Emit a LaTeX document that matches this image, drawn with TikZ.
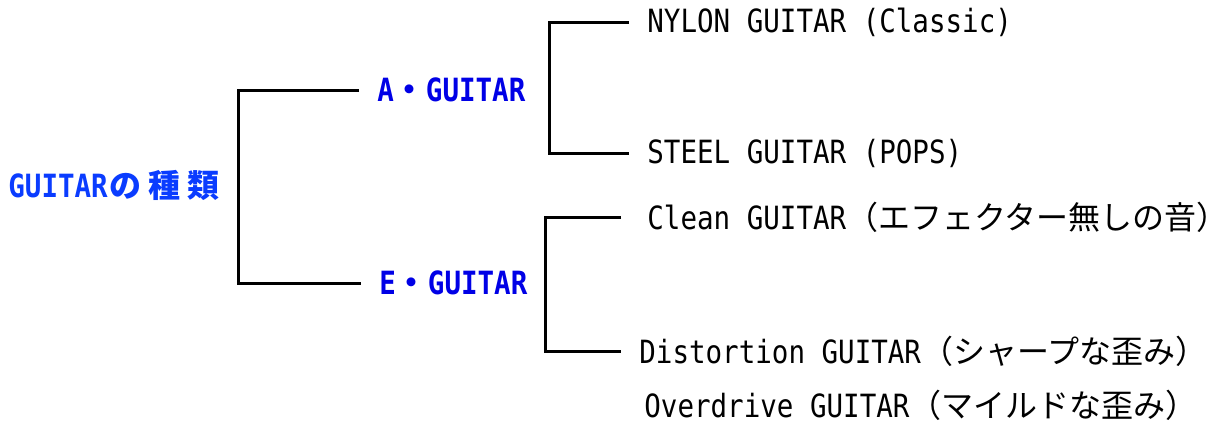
\documentclass[tikz,border=0pt]{standalone}
\usepackage{fontspec}
\setmainfont{Noto Sans CJK JP}
\newfontfamily\latin[FakeStretch=0.86]{DejaVu Sans Mono}
\usepackage{tikz}
\usetikzlibrary{positioning}

\definecolor{rootblue}{RGB}{10,60,255}
\definecolor{typeblue}{RGB}{0,0,230}

\tikzset{
	branch/.style={line width=1.5pt, shorten <=9pt, shorten >=9pt},
	item/.style={anchor=west, inner sep=0pt, font=\fontsize{16}{18}\selectfont},
	kind/.style={item, font=\fontsize{16}{18}\selectfont\bfseries},
}

\begin{document}
\begin{tikzpicture}[x=0.5pt, y=-0.5pt]
	\useasboundingbox (0,0) rectangle (1229,424);
	
	\node[kind, text=rootblue] (root) at (8,185) {{\latin GUITAR}\hspace{1pt}の\hspace{3.5pt}種\hspace{3.5pt}類};
	\node[kind, text=typeblue] (A) at (377,90) {{\latin A}・{\latin GUITAR}};
	\node[kind, text=typeblue] (E) at (379,283) {{\latin E}・{\latin GUITAR}};
	
	\node[item] (nylon) at (647,22) {\latin NYLON GUITAR (Classic)};
	\node[item] (steel) at (647,153) {\latin STEEL GUITAR (POPS)};
	\node[item] (clean) at (647,217) {{\latin Clean GUITAR}（エフェクター無しの音）};
	\node[item] (dist) at (639,351) {{\latin Distortion GUITAR}（シャープな歪み）};
	\node[item] (over) at (644,405) {{\latin Overdrive GUITAR}（マイルドな歪み）};
	
	\coordinate (forkroot) at (238,185);
	\coordinate (forkA) at (549,88);
	\coordinate (forkE) at (545,283);
	
	\draw[branch] (A.west) -| (forkroot) |- (E.west);
	\draw[branch] (nylon.west) -| (forkA) |- (steel.west);
	\draw[branch, shorten <=13pt] (clean.west) -| (forkE) |- (dist.west);
\end{tikzpicture}
\end{document}
